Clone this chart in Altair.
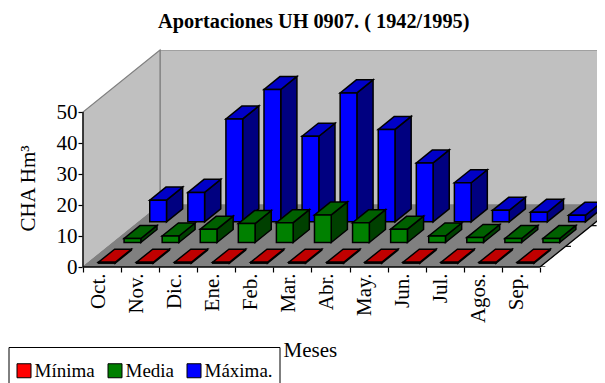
import json
import altair as alt

months = ["Oct.", "Nov.", "Dic.", "Ene.", "Feb.", "Mar.", "Abr.", "May.", "Jun.", "Jul.", "Agos.", "Sep."]
series = ["Mínima", "Media", "Máxima."]
minima = [0.3] * 12
media = [1.3, 2.1, 4.3, 6.1, 6.4, 8.9, 6.4, 4.3, 2.1, 1.6, 1.3, 1.3]
maxima = [7.0, 9.5, 33.2, 42.7, 27.6, 41.6, 29.8, 19.0, 12.6, 3.7, 3.1, 2.1]
values = [minima, media, maxima]
front_colors = ["#FF0000", "#008000", "#0000FF"]
top_colors = ["#C00000", "#006000", "#0000C8"]
side_colors = ["#800000", "#004000", "#000080"]

FONT = "Liberation Serif"
PLOT_W = 514
LW = 1.5
K = 25.67 / 38.08   # month units per depth row
M = 20.67 / 3.1     # value units per depth row
XMAX = PLOT_W / 38.08
YMAX = 70
BW = (0.28, 0.72)
BD = (0.185, 0.815)

xs = alt.Scale(domain=[0, XMAX], range=[0, PLOT_W], nice=False, zero=False)
ys = alt.Scale(domain=[0, YMAX], range=[217, 0], nice=False, zero=False)

AX = alt.Axis(values=list(range(13)), labelExpr=f"({json.dumps(months)})[datum.value] || ''",
              labelAngle=-90, labelAlign="right", labelBaseline="middle", labelOffset=15,
              labelPadding=1, labelFont=FONT, labelFontSize=21, labelColor="black",
              labelOverlap=False, labelBound=False, labelFlush=False,
              domain=False, grid=False, tickColor="black", tickSize=5, tickWidth=1.2,
              title="Meses", titleFont=FONT, titleFontSize=21, titleFontWeight="normal",
              titleColor="black", titleX=200, titleY=89, titleAnchor="start",
              titleAlign="left", titleBaseline="alphabetic")
AY = alt.Axis(values=[0, 10, 20, 30, 40, 50], labelFont=FONT, labelFontSize=21,
              labelColor="black", labelPadding=1, labelOverlap=False, labelBound=False,
              labelFlush=False, domain=False, grid=False, tickColor="black", tickSize=5,
              tickWidth=1.2, title="CHA Hm³", titleFont=FONT, titleFontSize=21,
              titleFontWeight="normal", titleColor="black", titleX=-45, titleY=138,
              titleAngle=-90, titleAlign="center")

def X(f="x"):
    return alt.X(f"{f}:Q", scale=xs, axis=AX, title="Meses")

def Y(f="y"):
    return alt.Y(f"{f}:Q", scale=ys, axis=AY, title="CHA Hm³", stack=None)

def d(rows):
    return alt.Data(values=rows)

def side(r):
    rows = []
    for i, v in enumerate(values[r]):
        for dp in BD:
            z = r + dp
            rows.append(dict(g=i, x=i + BW[1] + z * K, y=z * M, y2=v + z * M))
    return (alt.Chart(d(rows)).mark_area(color=side_colors[r], stroke="black", strokeWidth=LW, orient="vertical")
            .encode(X(), Y(), alt.Y2("y2:Q"), detail="g:N"))

def top(r):
    rows = []
    for i, v in enumerate(values[r]):
        for dp in BD:
            z = r + dp
            rows.append(dict(g=i, y=v + z * M, x=i + BW[0] + z * K, x2=i + BW[1] + z * K))
    return (alt.Chart(d(rows)).mark_area(color=top_colors[r], stroke="black", strokeWidth=LW, orient="horizontal")
            .encode(Y(), X(), alt.X2("x2:Q"), detail="g:N"))

def front(r):
    z = r + BD[0]
    rows = [dict(s=series[r], x=i + BW[0] + z * K, x2=i + BW[1] + z * K, y=z * M, y2=v + z * M)
            for i, v in enumerate(values[r])]
    return (alt.Chart(d(rows)).mark_rect(stroke="black", strokeWidth=LW)
            .encode(X(), alt.X2("x2:Q"), Y(), alt.Y2("y2:Q"),
                    color=alt.Color("s:N", scale=alt.Scale(domain=series, range=front_colors),
                                    legend=alt.Legend(
                                        orient="none", legendX=-74.5, legendY=297, direction="horizontal",
                                        columns=3, title=" ", titleFontSize=1, titlePadding=7,
                                        symbolType="square", symbolSize=196,
                                        symbolStrokeColor="black", symbolStrokeWidth=1, symbolOpacity=1,
                                        labelFont=FONT, labelFontSize=19, labelColor="black",
                                        labelLimit=0, labelOffset=1, columnPadding=10,
                                        padding=6, strokeColor="black", fillColor="white", cornerRadius=0))))

back = (alt.Chart(d([dict(x=3 * K, x2=XMAX + 1, y=3 * M, y2=YMAX)]))
        .mark_rect(color="#C0C0C0", stroke="#808080", strokeWidth=1.2, clip=True)
        .encode(X(), alt.X2("x2:Q"), Y(), alt.Y2("y2:Q")))

left_wall = (alt.Chart(d([dict(x=0, y=0, y2=50), dict(x=3 * K, y=3 * M, y2=50 + 3 * M)]))
             .mark_area(color="#C0C0C0", stroke="#808080", strokeWidth=1.2, orient="vertical")
             .encode(X(), Y(), alt.Y2("y2:Q")))

floor = (alt.Chart(d([dict(y=0, x=0, x2=12), dict(y=3 * M, x=3 * K, x2=12 + 3 * K)]))
         .mark_area(color="#808080", stroke="#808080", strokeWidth=1, orient="horizontal", clip=True)
         .encode(Y(), X(), alt.X2("x2:Q")))

front_axis = (alt.Chart(d([dict(x=0, x2=12, y=0)]))
              .mark_rule(color="black", strokeWidth=1.3)
              .encode(X(), alt.X2("x2:Q"), Y()))
value_axis = (alt.Chart(d([dict(x=0, y=0, y2=50)]))
              .mark_rule(color="black", strokeWidth=1.3)
              .encode(X(), Y(), alt.Y2("y2:Q")))
depth_axis = (alt.Chart(d([dict(x=12, y=0), dict(x=12 + 3 * K, y=3 * M)]))
              .mark_line(color="black", strokeWidth=1.3, clip=True)
              .encode(X(), Y()))
depth_ticks = (alt.Chart(d([dict(x=12 + z * K, x2=12 + z * K + 0.14, y=z * M) for z in (0, 1, 2, 3)]))
               .mark_rule(color="black", strokeWidth=1.2, clip=True)
               .encode(X(), alt.X2("x2:Q"), Y()))

layers = [back, left_wall, floor, front_axis, value_axis, depth_axis, depth_ticks]
for r in (2, 1, 0):
    layers += [side(r), top(r), front(r)]

chart = (alt.layer(*layers)
         .properties(width=PLOT_W, height=217, background="white",
                     autosize=alt.AutoSizeParams(type="none", contains="content"),
                     padding={"left": 75, "top": 42, "right": 0, "bottom": 116},
                     title=alt.TitleParams("Aportaciones UH 0907. ( 1942/1995)", font=FONT, fontSize=20.3,
                                           fontWeight="bold", color="black", anchor="start", frame="group",
                                           dx=75, offset=15))
         .configure_view(strokeWidth=0))

chart.save("out.html", embed_options={"renderer": "svg", "actions": False})
